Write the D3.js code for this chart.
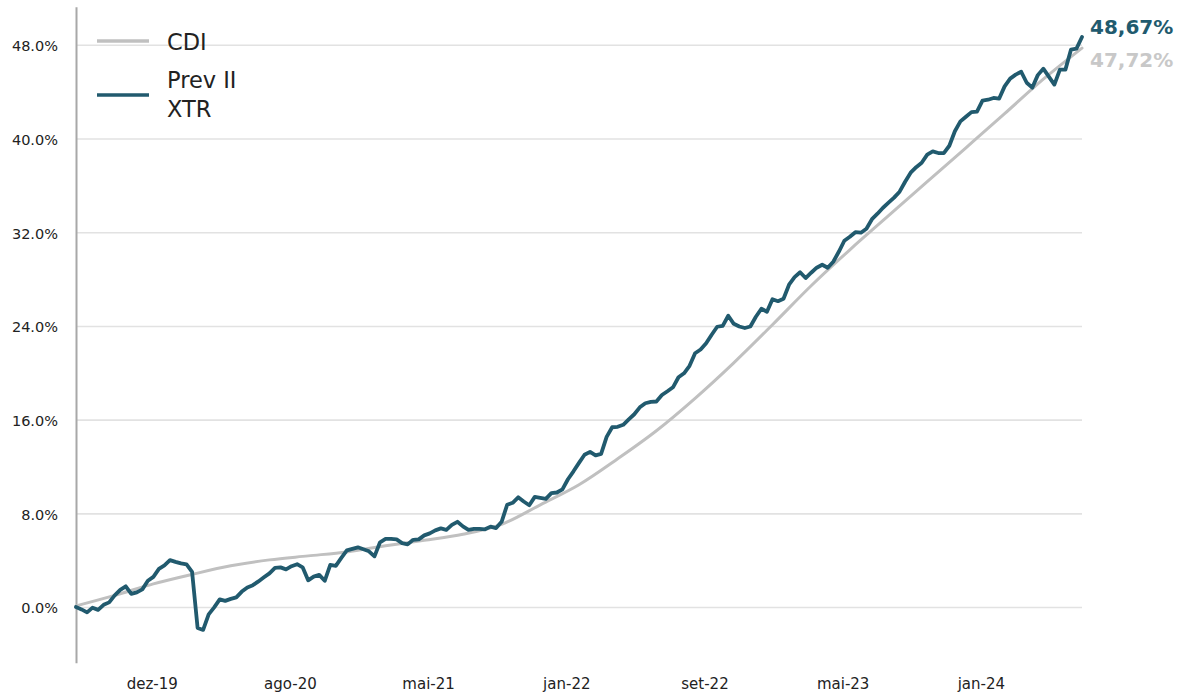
<!DOCTYPE html>
<html>
<head>
<meta charset="utf-8">
<script src="https://cdn.jsdelivr.net/npm/d3@7"></script>
<style>
  body { margin: 0; background: #ffffff; }
  svg { display: block; font-family: "DejaVu Sans", Verdana, sans-serif; }
</style>
</head>
<body>
<svg id="chart" width="1178" height="694"></svg>
<script>
// Accumulated return (%) of the fund vs. CDI
const seriesNames = ["CDI", "Prev II\nXTR"];

// Fund series: one observation every 10 days from 2019-08-05
const prevStart = "2019-08-05";
const prevStepDays = 10;
const prevValues = [
  0.00, -0.20, -0.45, -0.05, -0.24, 0.19, 0.40, 1.00, 1.47, 1.77,
  1.13, 1.26, 1.51, 2.24, 2.58, 3.26, 3.56, 4.01, 3.86, 3.73,
  3.65, 3.01, -1.78, -1.95, -0.62, -0.03, 0.66, 0.53, 0.70, 0.83,
  1.32, 1.68, 1.87, 2.19, 2.54, 2.88, 3.35, 3.39, 3.22, 3.49,
  3.66, 3.39, 2.28, 2.60, 2.75, 2.24, 3.60, 3.52, 4.20, 4.84,
  4.97, 5.10, 4.93, 4.76, 4.33, 5.53, 5.82, 5.82, 5.78, 5.46,
  5.35, 5.74, 5.78, 6.12, 6.29, 6.55, 6.72, 6.59, 7.02, 7.28,
  6.89, 6.59, 6.68, 6.68, 6.64, 6.87, 6.74, 7.28, 8.73, 8.90,
  9.37, 9.01, 8.69, 9.41, 9.33, 9.24, 9.73, 9.78, 10.05, 10.91,
  11.59, 12.31, 13.00, 13.25, 12.95, 13.08, 14.53, 15.35, 15.39, 15.56,
  16.03, 16.46, 17.05, 17.40, 17.52, 17.55, 18.10, 18.42, 18.76, 19.62,
  19.96, 20.60, 21.67, 21.99, 22.52, 23.25, 23.93, 24.01, 24.87, 24.18,
  23.95, 23.82, 23.95, 24.78, 25.47, 25.21, 26.28, 26.11, 26.32, 27.52,
  28.16, 28.58, 28.09, 28.54, 28.97, 29.22, 28.97, 29.48, 30.33, 31.27,
  31.61, 32.00, 31.96, 32.30, 33.11, 33.58, 34.09, 34.52, 34.95, 35.46,
  36.31, 37.08, 37.55, 37.93, 38.62, 38.90, 38.76, 38.76, 39.38, 40.62,
  41.46, 41.86, 42.25, 42.29, 43.23, 43.31, 43.46, 43.40, 44.45, 45.11,
  45.45, 45.70, 44.76, 44.34, 45.41, 45.96, 45.28, 44.60, 45.88, 45.88,
  47.58, 47.67, 48.67
];

// Benchmark series: one observation every 70 days from 2019-08-05
const cdiStart = "2019-08-05";
const cdiStepDays = 70;
const cdiValues = [
  0.10, 1.00, 1.98, 2.79, 3.52, 4.03, 4.37, 4.71, 5.23, 5.70,
  6.21, 7.06, 8.73, 10.44, 12.66, 15.05, 17.82, 20.85, 24.10, 27.43,
  30.50, 33.41, 36.31, 39.21, 42.12, 45.06, 47.72
];

const yTicks = [0, 8, 16, 24, 32, 40, 48];
const xTickDates = ["2019-12-20", "2020-08-26", "2021-05-03", "2022-01-08", "2022-09-15", "2023-05-23", "2024-01-28"];
const xTickLabels = ["dez-19", "ago-20", "mai-21", "jan-22", "set-22", "mai-23", "jan-24"];

const colors = { cdi: "#c0c0c0", prev: "#215a6e", cdiText: "#c8c8c8", axis: "#a8a8a8", grid: "#e2e2e2", text: "#222222" };

const parse = d3.utcParse("%Y-%m-%d");
const toSeries = (start, step, values) =>
  values.map((v, i) => ({ date: d3.utcDay.offset(parse(start), i * step), value: v }));

const prev = toSeries(prevStart, prevStepDays, prevValues);
const cdi = toSeries(cdiStart, cdiStepDays, cdiValues);

const svg = d3.select("#chart");
const plot = { left: 76, right: 1082, top: 7.3, bottom: 663.3 };

const x = d3.scaleUtc()
  .domain([parse("2019-08-05"), parse("2024-07-29")])
  .range([plot.left, plot.right]);
const y = d3.scaleLinear().domain([-4.8, 51.2]).range([plot.bottom, plot.top]);

// Horizontal gridlines and y labels
const yAxis = svg.append("g")
  .attr("transform", `translate(${plot.left},0)`)
  .call(d3.axisLeft(y).tickValues(yTicks).tickSize(-(plot.right - plot.left)).tickPadding(18)
    .tickFormat(d => d3.format(".1f")(d) + "%"));
yAxis.select(".domain").remove();
yAxis.selectAll(".tick line").attr("stroke", colors.grid).attr("stroke-width", 1.6);
yAxis.selectAll(".tick text")
  .attr("fill", colors.text).attr("font-size", 14.5)
  .attr("font-family", "DejaVu Sans, sans-serif")
  .attr("dy", "0.4em");

// Vertical axis line
svg.append("line")
  .attr("x1", plot.left + 0.5).attr("x2", plot.left + 0.5)
  .attr("y1", plot.top).attr("y2", plot.bottom)
  .attr("stroke", colors.axis).attr("stroke-width", 2);

// Date labels along the bottom
const xAxis = svg.append("g")
  .attr("transform", `translate(0,${plot.bottom})`)
  .call(d3.axisBottom(x).tickValues(xTickDates.map(parse)).tickSize(0).tickPadding(0)
    .tickFormat((d, i) => xTickLabels[i]));
xAxis.select(".domain").remove();
xAxis.selectAll(".tick text")
  .attr("fill", colors.text).attr("font-size", 15)
  .attr("font-family", "DejaVu Sans, sans-serif")
  .attr("dy", null).attr("y", 25.5);

const line = d3.line().x(d => x(d.date)).y(d => y(d.value));

svg.append("path").datum(cdi)
  .attr("fill", "none").attr("stroke", colors.cdi).attr("stroke-width", 3)
  .attr("stroke-linejoin", "round").attr("stroke-linecap", "round")
  .attr("d", line.curve(d3.curveMonotoneX));

svg.append("path").datum(prev)
  .attr("fill", "none").attr("stroke", colors.prev).attr("stroke-width", 3.8)
  .attr("stroke-linejoin", "round").attr("stroke-linecap", "round")
  .attr("d", line.curve(d3.curveLinear));

// Final values
const fmtEnd = v => d3.format(".2f")(v).replace(".", ",") + "%";
svg.append("text")
  .attr("x", 1090).attr("y", 33.5)
  .attr("font-size", 20).attr("font-weight", "bold").attr("fill", colors.prev)
  .text(fmtEnd(prevValues[prevValues.length - 1]));
svg.append("text")
  .attr("x", 1090).attr("y", 67)
  .attr("font-size", 20).attr("font-weight", "bold").attr("fill", colors.cdiText)
  .text(fmtEnd(cdiValues[cdiValues.length - 1]));

// Legend
const legend = svg.append("g");
const legendItems = [
  { name: seriesNames[0], color: colors.cdi, ly: 41, ty: 50 },
  { name: seriesNames[1], color: colors.prev, ly: 95, ty: 87.5 }
];
legendItems.forEach(it => {
  legend.append("line")
    .attr("x1", 97).attr("x2", 149).attr("y1", it.ly).attr("y2", it.ly)
    .attr("stroke", it.color).attr("stroke-width", 3.4);
  const t = legend.append("text")
    .attr("x", 167).attr("y", it.ty)
    .attr("font-size", 22.5).attr("fill", colors.text);
  it.name.split("\n").forEach((part, k) => {
    t.append("tspan").attr("x", 167).attr("dy", k === 0 ? 0 : 29).text(part);
  });
});
</script>
</body>
</html>
